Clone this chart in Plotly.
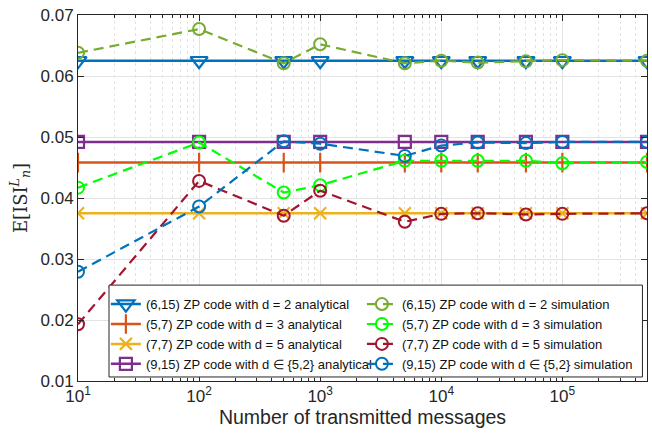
import plotly.graph_objects as go

# Number of transmitted messages (x axis, log scale)
messages = [10, 100, 500, 1000, 5000, 10000, 20000, 50000, 100000, 500000]

# Analytical expected ISI for each ZP code
ana_6_15 = [0.0625] * len(messages)
ana_5_7 = [0.0458] * len(messages)
ana_7_7 = [0.0375] * len(messages)
ana_9_15 = [0.0492] * len(messages)

# Simulated expected ISI for each ZP code
sim_6_15 = [0.0638, 0.0677, 0.0621, 0.0652, 0.0621, 0.0625, 0.0622, 0.0624, 0.0626, 0.0625]
sim_5_7 = [0.0417, 0.0491, 0.0409, 0.0421, 0.0461, 0.0461, 0.0461, 0.0461, 0.0457, 0.0459]
sim_7_7 = [0.0193, 0.0428, 0.0371, 0.0412, 0.0361, 0.0374, 0.0375, 0.0373, 0.0374, 0.0375]
sim_9_15 = [0.0279, 0.0386, 0.0493, 0.0489, 0.0469, 0.0486, 0.0491, 0.0490, 0.0492, 0.0492]

# Major and minor tick positions of the log axis
major_ticks = [10, 100, 1000, 10000, 100000]
major_labels = ["10<sup>1</sup>", "10<sup>2</sup>", "10<sup>3</sup>", "10<sup>4</sup>", "10<sup>5</sup>"]
minor_ticks = [m * d for d in (10, 100, 1000, 10000, 100000) for m in range(2, 10)
               if m * d <= 500000]

analytical = [
    ("(6,15) ZP code with d = 2 analytical", ana_6_15, "#0072BD", "triangle-down-open", 15),
    ("(5,7) ZP code with d = 3 analytical", ana_5_7, "#D95319", "line-ns-open", 14),
    ("(7,7) ZP code with d = 5 analytical", ana_7_7, "#EDB120", "x-thin-open", 12),
    ("(9,15) ZP code with d \u2208 {5,2} analytical", ana_9_15, "#7E2F8E", "square-open", 12),
]
simulation = [
    ("(6,15) ZP code with d = 2 simulation", sim_6_15, "#77AC30"),
    ("(5,7) ZP code with d = 3 simulation", sim_5_7, "#00FF00"),
    ("(7,7) ZP code with d = 5 simulation", sim_7_7, "#A2142F"),
    ("(9,15) ZP code with d \u2208 {5,2} simulation", sim_9_15, "#0072BD"),
]

fig = go.Figure()

for name, vals, color, symbol, size in analytical:
    fig.add_trace(go.Scatter(
        x=messages, y=vals, name=name, mode="lines+markers",
        line=dict(color=color, width=2.5),
        marker=dict(symbol=symbol, size=size, color=color,
                    line=dict(color=color, width=2.2)),
        legend="legend",
    ))

for name, vals, color in simulation:
    fig.add_trace(go.Scatter(
        x=messages, y=vals, name=name, mode="lines+markers",
        line=dict(color=color, width=2.2, dash="10px,6px"),
        marker=dict(symbol="circle-open", size=12, color=color,
                    line=dict(color=color, width=2)),
        legend="legend2",
    ))

axis_font = dict(family="Arial", size=17, color="#262626")

fig.update_xaxes(
    type="log", range=[1, 5.69897],
    tickmode="array", tickvals=major_ticks, ticktext=major_labels,
    ticks="inside", ticklen=6, tickcolor="#262626",
    showline=True, linecolor="#262626", linewidth=1, mirror="ticks",
    showgrid=True, gridcolor="#e3e3e3", gridwidth=1,
    minor=dict(tickmode="array", tickvals=minor_ticks,
               ticks="inside", ticklen=3, tickcolor="#262626",
               showgrid=True, gridcolor="#e3e3e3", griddash="dot"),
    tickfont=axis_font, zeroline=False,
    title=dict(text="Number of transmitted messages",
               font=dict(family="Arial", size=19.5, color="#262626"),
               standoff=4),
)
fig.update_yaxes(
    range=[0.01, 0.07], dtick=0.01, tickformat=".2f",
    ticks="inside", ticklen=6, tickcolor="#262626",
    showline=True, linecolor="#262626", linewidth=1, mirror="ticks",
    showgrid=True, gridcolor="#e3e3e3", gridwidth=1,
    tickfont=axis_font, zeroline=False,
    title=dict(text="E[ISI<sup><i>L</i></sup><sub><i>n</i></sub>]",
               font=dict(family="DejaVu Serif, Liberation Serif, serif", size=18, color="#262626"),
               standoff=8),
)

legend_common = dict(
    orientation="v", xanchor="left", yanchor="top", y=0.251,
    bgcolor="rgba(0,0,0,0)", borderwidth=0,
    font=dict(family="Arial", size=13, color="#111111"),
    itemwidth=30, tracegroupgap=0,
)

fig.update_layout(
    width=652, height=434,
    margin=dict(l=78, r=5, t=15, b=53),
    plot_bgcolor="white", paper_bgcolor="white",
    legend=dict(x=0.049, **legend_common),
    legend2=dict(x=0.499, **legend_common),
    shapes=[dict(type="rect", xref="paper", yref="paper",
                 x0=0.0545, x1=0.992, y0=0.011, y1=0.262,
                 line=dict(color="#262626", width=1), fillcolor="white",
                 layer="above")],
)

fig.write_html("out.html")
